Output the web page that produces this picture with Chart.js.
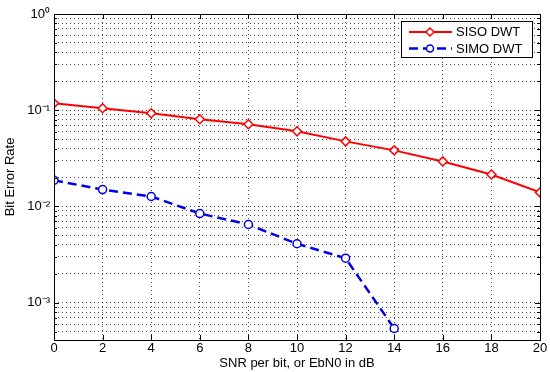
<!DOCTYPE html>
<html>
<head>
<meta charset="utf-8">
<script src="https://cdn.jsdelivr.net/npm/chart.js@4/dist/chart.umd.min.js"></script>
<style>
  html, body { margin: 0; padding: 0; background: #fff; }
  #wrap { width: 550px; height: 372px; position: relative; }
</style>
</head>
<body>
<div id="wrap"><canvas id="c" width="550" height="372"></canvas></div>
<script>
// ---- data ----
const snrDb = [0, 2, 4, 6, 8, 10, 12, 14, 16, 18, 20];
const sisoBer = [0.118, 0.105, 0.093, 0.0806, 0.0715, 0.0604, 0.0475, 0.0383, 0.0294, 0.0215, 0.0140];
const simoBer = [0.0187, 0.0150, 0.0127, 0.00845, 0.0065, 0.0041, 0.0029, 0.00054];
const seriesNames = ['SISO DWT', 'SIMO DWT'];
const xTicks = [0, 2, 4, 6, 8, 10, 12, 14, 16, 18, 20];
const yDecades = [-4, -3, -2, -1, 0];
const xTitle = 'SNR per bit, or EbN0 in dB';
const yTitle = 'Bit Error Rate';

const sup = { '0': '\u2070', '1': '\u00B9', '2': '\u00B2', '3': '\u00B3', '4': '\u2074', '-': '\u207B' };
function pow10Label(v) {
  const e = Math.round(Math.log10(v));
  return '10' + String(e).split('').map(ch => sup[ch]).join('');
}
function isDecade(v) {
  const l = Math.log10(v);
  return Math.abs(l - Math.round(l)) < 1e-9;
}

const yMin = 4.1e-4, yMax = 1;
const FONT = 'Liberation Sans, Arial, sans-serif';
const FS = 13;

const boxPlugin = {
  id: 'boxPlugin',
  afterDraw(chart) {
    const { ctx, chartArea: a, scales } = chart;
    ctx.save();
    ctx.strokeStyle = '#000';
    ctx.lineWidth = 1;
    ctx.setLineDash([]);
    ctx.strokeRect(Math.round(a.left) + 0.5, Math.round(a.top) + 0.5,
                   Math.round(a.right - a.left), Math.round(a.bottom - a.top));
    // inner tick marks
    ctx.beginPath();
    scales.x.ticks.forEach(t => {
      const px = Math.round(scales.x.getPixelForValue(t.value)) + 0.5;
      ctx.moveTo(px, a.bottom); ctx.lineTo(px, a.bottom - 5);
      ctx.moveTo(px, a.top); ctx.lineTo(px, a.top + 5);
    });
    scales.y.ticks.forEach(t => {
      const py = Math.round(scales.y.getPixelForValue(t.value)) + 0.5;
      const len = isDecade(t.value) ? 5 : 3;
      ctx.moveTo(a.left, py); ctx.lineTo(a.left + len, py);
      ctx.moveTo(a.right, py); ctx.lineTo(a.right - len, py);
    });
    ctx.stroke();

    // legend
    const lx = 401, ly = 21, lw = 131, lh = 36;
    ctx.fillStyle = '#fff';
    ctx.fillRect(lx, ly, lw, lh);
    ctx.strokeRect(lx + 0.5, ly + 0.5, lw, lh);
    chart.data.datasets.forEach((ds, i) => {
      const y = ly + 11 + i * 16.5;
      ctx.strokeStyle = ds.borderColor;
      ctx.lineWidth = ds.borderWidth;
      ctx.setLineDash(ds.borderDash || []);
      ctx.beginPath();
      ctx.moveTo(409, y); ctx.lineTo(452, y);
      ctx.stroke();
      ctx.setLineDash([]);
      ctx.lineWidth = 1.5;
      ctx.beginPath();
      if (ds.pointStyle === 'rectRot') {
        ctx.moveTo(430, y - 4); ctx.lineTo(434, y); ctx.lineTo(430, y + 4); ctx.lineTo(426, y); ctx.closePath();
      } else {
        ctx.arc(430, y, 3.5, 0, Math.PI * 2);
      }
      ctx.fillStyle = '#fff';
      ctx.fill();
      ctx.stroke();
      ctx.fillStyle = '#000';
      ctx.font = FS + 'px ' + FONT;
      ctx.textBaseline = 'middle';
      ctx.textAlign = 'left';
      ctx.fillText(ds.label, 456, y + 0.5);
    });
    ctx.restore();
  }
};

new Chart(document.getElementById('c'), {
  type: 'line',
  data: {
    labels: snrDb,
    datasets: [
      {
        label: seriesNames[0],
        data: snrDb.map((x, i) => ({ x, y: sisoBer[i] })),
        borderColor: '#ff0000',
        backgroundColor: '#ffffff',
        borderWidth: 2,
        pointStyle: 'rectRot',
        pointRadius: 4.5,
        pointBorderWidth: 1.5,
        tension: 0
      },
      {
        label: seriesNames[1],
        data: simoBer.map((y, i) => ({ x: snrDb[i], y })),
        borderColor: '#0000e6',
        backgroundColor: '#ffffff',
        borderWidth: 2.5,
        borderDash: [9, 5],
        pointStyle: 'circle',
        pointRadius: 4,
        pointBorderWidth: 1.5,
        tension: 0
      }
    ]
  },
  options: {
    responsive: false,
    animation: false,
    devicePixelRatio: 1,
    layout: { padding: { top: 14, right: 10, left: 0, bottom: 0 } },
    plugins: { legend: { display: false }, tooltip: { enabled: false } },
    scales: {
      x: {
        type: 'linear',
        min: 0, max: 20,
        afterBuildTicks(scale) { scale.ticks = xTicks.map(v => ({ value: v })); },
        afterFit(scale) { scale.height = 32; },
        ticks: { color: '#000', font: { size: FS, family: FONT }, padding: 1, maxRotation: 0, autoSkip: false },
        grid: { color: 'rgba(30,30,30,0.8)', lineWidth: 1, tickLength: 0, drawTicks: false },
        border: { display: false, dash: [1, 3] },
        title: { display: true, text: xTitle, color: '#000', font: { size: FS, family: FONT }, padding: { top: 0, bottom: 1 } }
      },
      y: {
        type: 'logarithmic',
        min: yMin, max: yMax,
        afterBuildTicks(scale) {
          const t = [];
          yDecades.forEach(e => {
            for (let m = 1; m <= 9; m++) {
              const v = Number((m * Math.pow(10, e)).toPrecision(3));
              if (v >= yMin && v <= yMax) t.push({ value: v });
            }
          });
          scale.ticks = t;
        },
        afterFit(scale) { scale.width = 54; },
        ticks: {
          color: '#000', font: { size: FS, family: FONT }, padding: 4, autoSkip: false,
          callback: (v) => isDecade(v) ? pow10Label(v) : ''
        },
        grid: { color: 'rgba(30,30,30,0.8)', lineWidth: 1, drawTicks: false },
        border: { display: false, dash: [1, 3] },
        title: { display: true, text: yTitle, color: '#000', font: { size: FS, family: FONT }, padding: { top: 3, bottom: 0 } }
      }
    }
  },
  plugins: [boxPlugin]
});
</script>
</body>
</html>
